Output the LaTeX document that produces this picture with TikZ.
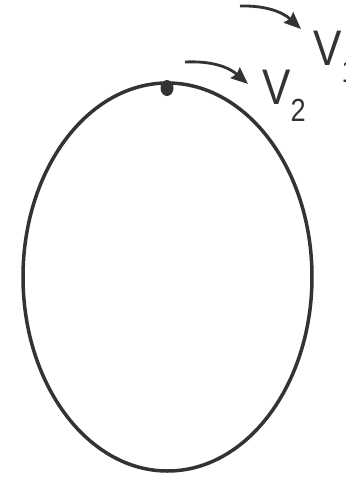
\documentclass[tikz,border=0pt]{standalone}
\usepackage{fontspec}
\setmainfont{Liberation Sans}
\usetikzlibrary{arrows.meta}

\newcommand{\vel}[1]{\scalebox{0.85}[1]{V\raisebox{-8.5pt}{\fontsize{16}{18}\selectfont #1}}}

\begin{document}
\begin{tikzpicture}[
    x=0.5pt, y=-0.5pt,
    orbit/.style={draw=black!80, line width=1.75pt},
    arr/.style={-{Stealth[length=8.5pt, width=7pt, inset=1pt]}, line width=1.4pt, draw=black!80},
    vlbl/.style={anchor=base west, inner sep=0pt, font=\fontsize{25}{28}\selectfont, text=black!80}
]
\useasboundingbox (0,0) rectangle (345,478);
\draw[orbit] (167.5,277) ellipse [x radius=144.5, y radius=194];
\fill[black!80] (167,88) ellipse [x radius=6.5, y radius=8];

\coordinate (a1) at (240,6);
\coordinate (b1) at (301,29);
\coordinate (a2) at (185,62);
\coordinate (b2) at (248,84);

\node[vlbl] (V1) at (313,65) {\vel{1}};
\node[vlbl] (V2) at (262,104) {\vel{2}};

\draw[arr] (a1) to[bend left=22] (b1);
\draw[arr] (a2) to[bend left=22] (b2);
\end{tikzpicture}
\end{document}
